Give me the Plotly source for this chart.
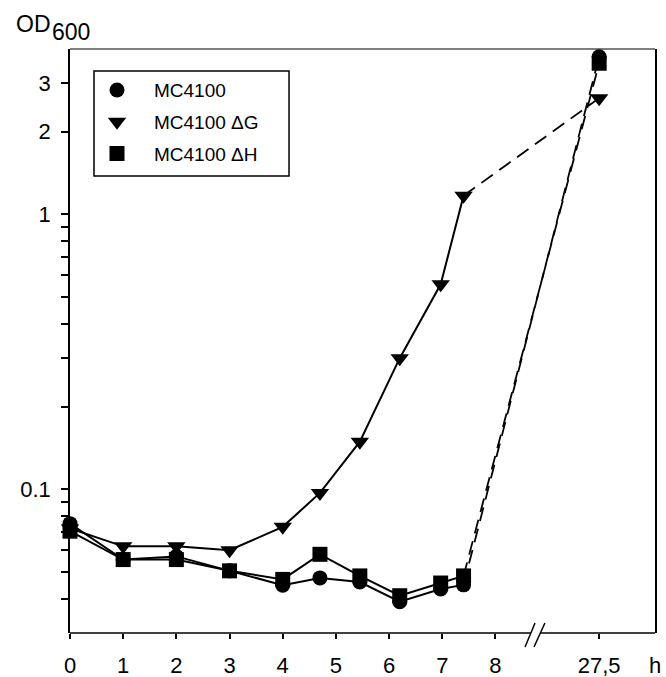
import plotly.graph_objects as go
import numpy as np

# ---- data ----
times_h = [0, 1, 2, 3, 4, 4.7, 5.45, 6.2, 6.97, 7.4, 27.5]
od_mc4100 = [0.075, 0.0555, 0.057, 0.0505, 0.0448, 0.0476, 0.046, 0.039, 0.0434, 0.0449, 3.75]
od_delta_g = [0.072, 0.062, 0.062, 0.060, 0.073, 0.097, 0.149, 0.30, 0.557, 1.17, 2.65]
od_delta_h = [0.0704, 0.0555, 0.0555, 0.0505, 0.047, 0.058, 0.0484, 0.041, 0.0456, 0.0484, 3.55]

x_tick_times = [0, 1, 2, 3, 4, 5, 6, 7, 8, 27.5]
x_tick_labels = ["0", "1", "2", "3", "4", "5", "6", "7", "8", "27,5"]
y_tick_vals = [0.04, 0.05, 0.06, 0.07, 0.08, 0.09, 0.1, 0.2, 0.3, 0.4, 0.5, 0.6,
               0.7, 0.8, 0.9, 1, 2, 3]
y_tick_text = ["" if v not in (0.1, 1, 2, 3) else ("0.1" if v == 0.1 else str(int(v)))
               for v in y_tick_vals]

# broken time axis: times after the break are shifted left
BREAK_AT = 8.5
BREAK_SHIFT = 17.55


def axis_pos(t):
    t = np.asarray(t, dtype=float)
    return np.where(t > BREAK_AT, t - BREAK_SHIFT, t)


FONT = "Liberation Sans, Arial, Helvetica, sans-serif"
n_solid = sum(1 for t in times_h if t <= BREAK_AT)

series = [
    ("MC4100", od_mc4100, "circle", 15),
    ("MC4100 ΔG", od_delta_g, "triangle-down", 16),
    ("MC4100 ΔH", od_delta_h, "square", 15),
]

fig = go.Figure()
xs = axis_pos(times_h)
# connecting lines (solid before the break, dashed across it)
for name, vals, sym, size in series:
    fig.add_trace(go.Scatter(
        x=xs[n_solid - 1:], y=vals[n_solid - 1:], mode="lines",
        line=dict(color="black", width=1.8, dash="14px,8px"),
        showlegend=False, cliponaxis=False, hoverinfo="skip"))
    fig.add_trace(go.Scatter(
        x=xs[:n_solid], y=vals[:n_solid], mode="lines",
        line=dict(color="black", width=2),
        showlegend=False, cliponaxis=False, hoverinfo="skip"))
# markers
for name, vals, sym, size in [series[1], series[0], series[2]]:
    fig.add_trace(go.Scatter(
        x=xs, y=vals, mode="markers", name=name,
        marker=dict(symbol=sym, size=size, color="black"),
        legendgroup=name, legendrank={"MC4100": 1, "MC4100 ΔG": 2, "MC4100 ΔH": 3}[name],
        cliponaxis=False))

X_MAX = 11.0
fig.update_xaxes(
    range=[0, X_MAX], showline=False, showgrid=False, zeroline=False, automargin=False,
    tickmode="array", tickvals=list(axis_pos(x_tick_times)), ticktext=x_tick_labels,
    ticks="outside", ticklen=5, tickwidth=1.5, tickcolor="black",
    tickfont=dict(family=FONT, size=22, color="black"), ticklabelstandoff=8)
fig.update_yaxes(
    type="log", range=[np.log10(0.03), np.log10(4)], showline=True, linecolor="black",
    linewidth=1.5, mirror=True, showgrid=False, zeroline=False, automargin=False,
    tickmode="array", tickvals=y_tick_vals, ticktext=y_tick_text,
    ticks="outside", ticklen=7, tickwidth=1.5, tickcolor="black",
    tickfont=dict(family=FONT, size=22, color="black"), ticklabelstandoff=6)

shapes = [
    dict(type="line", xref="paper", yref="paper", x0=0, x1=1, y0=1, y1=1,
         line=dict(color="black", width=1)),
    dict(type="line", xref="x", yref="paper", x0=0, x1=8.67, y0=0, y1=0,
         line=dict(color="black", width=1.5)),
    dict(type="line", xref="x", yref="paper", x0=8.84, x1=X_MAX, y0=0, y1=0,
         line=dict(color="black", width=1.5)),
    dict(type="line", xref="x", yref="paper", x0=8.556, x1=8.744, y0=-0.024, y1=0.0171,
         line=dict(color="black", width=1.5)),
    dict(type="line", xref="x", yref="paper", x0=8.725, x1=8.93, y0=-0.024, y1=0.0171,
         line=dict(color="black", width=1.5)),
    dict(type="rect", xref="paper", yref="paper", x0=0.041, x1=0.3744, y0=0.7825, y1=0.9623,
         line=dict(color="black", width=1.5), fillcolor="rgba(0,0,0,0)"),
]

annotations = [
    dict(text="OD", xref="paper", yref="paper", x=-0.0957, y=1.0428, xanchor="left",
         yanchor="middle", showarrow=False, font=dict(family=FONT, size=23, color="black")),
    dict(text="600", xref="paper", yref="paper", x=-0.034, y=1.029, xanchor="left",
         yanchor="middle", showarrow=False, font=dict(family=FONT, size=23, color="black")),
    dict(text="h", xref="paper", yref="paper", x=1.0, y=-0.0548, xanchor="center",
         yanchor="middle", showarrow=False, font=dict(family=FONT, size=22, color="black")),
]

fig.update_layout(
    width=666, height=677, margin=dict(l=70, r=11, t=49, b=44),
    paper_bgcolor="white", plot_bgcolor="white",
    shapes=shapes, annotations=annotations,
    legend=dict(x=0.0171, y=0.962, xanchor="left", yanchor="top", bgcolor="rgba(0,0,0,0)",
                borderwidth=0, font=dict(family=FONT, size=19, color="black"),
                itemwidth=64, tracegroupgap=4, traceorder="grouped"),
)

fig.write_html("out.html", config={"displayModeBar": False},
               post_script="document.body.style.margin='0px';document.body.style.overflow='hidden';")
